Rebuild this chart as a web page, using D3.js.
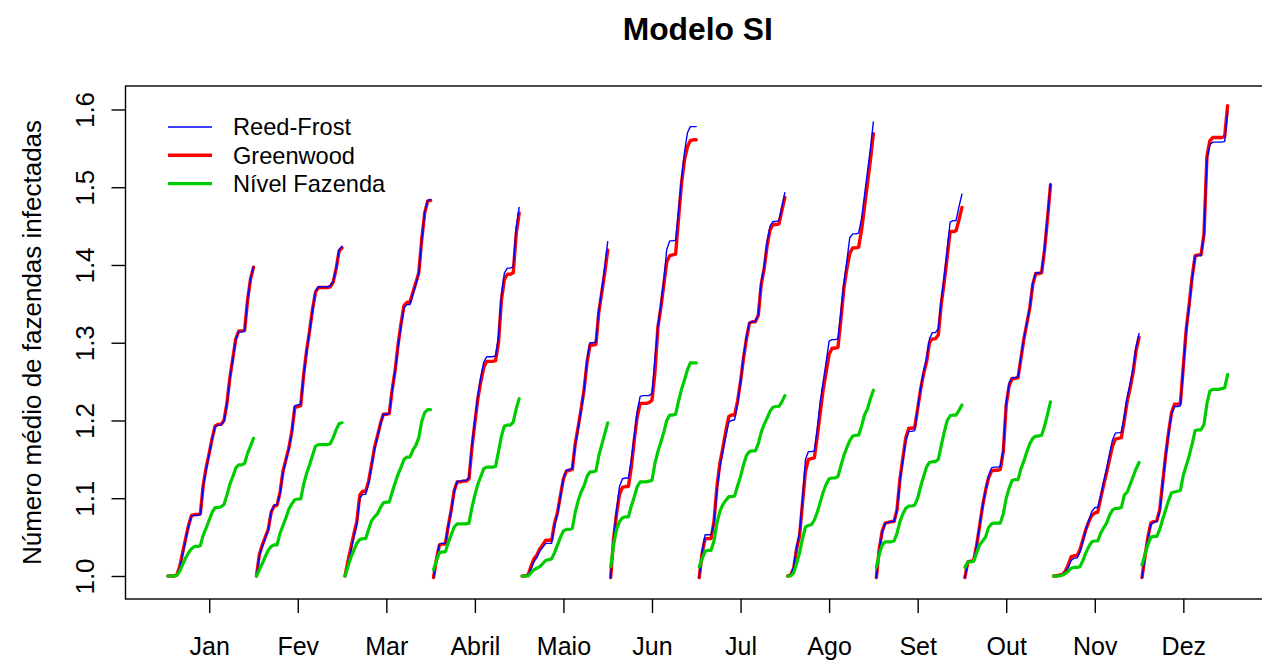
<!DOCTYPE html>
<html>
<head>
<meta charset="utf-8">
<script src="https://cdn.jsdelivr.net/npm/d3@7"></script>
<style>
  body { margin: 0; background: #ffffff; }
  text { font-family: "Liberation Sans", Arial, Helvetica, sans-serif; fill: #000; }
</style>
</head>
<body>
<svg id="chart" width="1262" height="662"></svg>
<script>
// Months shown on the x axis; each month holds 30 daily values.
const months = ["Jan", "Fev", "Mar", "Abril", "Maio", "Jun", "Jul", "Ago", "Set", "Out", "Nov", "Dez"];
const daysPerMonth = 30;
const yTickValues = [1.0, 1.1, 1.2, 1.3, 1.4, 1.5, 1.6];
const seriesNames = ["Reed-Frost", "Greenwood", "Nível Fazenda"];

// Mean number of infected farms per day, Reed-Frost model
const reedFrost = [
  [1.000,1.000,1.000,1.001,1.010,1.028,1.046,1.064,1.077,1.078,1.078,1.079,1.116,1.138,1.157,1.176,1.192,1.194,1.194,1.199,1.221,1.254,1.279,1.304,1.314,1.314,1.315,1.356,1.383,1.398],
  [1.000,1.026,1.038,1.049,1.059,1.083,1.091,1.092,1.106,1.133,1.149,1.164,1.185,1.219,1.220,1.221,1.258,1.289,1.314,1.342,1.366,1.372,1.372,1.372,1.372,1.373,1.379,1.396,1.420,1.424],
  [1.000,1.015,1.032,1.050,1.066,1.100,1.105,1.105,1.119,1.141,1.163,1.179,1.195,1.208,1.208,1.209,1.239,1.264,1.296,1.322,1.345,1.349,1.349,1.362,1.375,1.390,1.432,1.467,1.483,1.484],
  [0.998,1.022,1.041,1.042,1.042,1.064,1.084,1.108,1.122,1.122,1.123,1.123,1.126,1.168,1.201,1.232,1.256,1.275,1.282,1.282,1.282,1.283,1.308,1.362,1.390,1.396,1.396,1.398,1.448,1.474],
  [1.000,1.000,1.001,1.009,1.018,1.024,1.032,1.037,1.042,1.042,1.042,1.065,1.080,1.103,1.126,1.136,1.137,1.138,1.168,1.190,1.213,1.240,1.278,1.300,1.300,1.301,1.342,1.368,1.398,1.430],
  [0.998,1.050,1.085,1.115,1.125,1.126,1.126,1.150,1.180,1.212,1.231,1.232,1.232,1.232,1.235,1.280,1.320,1.350,1.380,1.420,1.431,1.431,1.432,1.470,1.510,1.545,1.570,1.578,1.578,1.578],
  [0.998,1.032,1.053,1.053,1.053,1.068,1.110,1.140,1.160,1.180,1.198,1.200,1.201,1.222,1.250,1.282,1.308,1.326,1.327,1.327,1.336,1.378,1.398,1.430,1.450,1.456,1.456,1.457,1.475,1.493],
  [1.000,1.001,1.012,1.038,1.056,1.100,1.150,1.160,1.160,1.161,1.190,1.225,1.250,1.275,1.302,1.304,1.304,1.305,1.340,1.376,1.405,1.435,1.440,1.440,1.441,1.460,1.490,1.520,1.550,1.584],
  [0.998,1.033,1.056,1.068,1.069,1.070,1.070,1.085,1.122,1.149,1.174,1.186,1.186,1.187,1.215,1.242,1.263,1.280,1.305,1.313,1.313,1.318,1.355,1.385,1.420,1.455,1.457,1.457,1.475,1.491],
  [0.998,1.018,1.019,1.020,1.040,1.065,1.090,1.110,1.128,1.139,1.140,1.140,1.141,1.162,1.222,1.248,1.255,1.255,1.256,1.282,1.306,1.326,1.346,1.377,1.390,1.390,1.391,1.422,1.462,1.505],
  [1.000,1.000,1.001,1.002,1.005,1.011,1.020,1.023,1.023,1.031,1.045,1.060,1.072,1.083,1.088,1.088,1.103,1.121,1.138,1.157,1.175,1.184,1.184,1.185,1.205,1.230,1.248,1.268,1.295,1.312],
  [0.998,1.024,1.049,1.066,1.069,1.070,1.083,1.118,1.153,1.183,1.208,1.218,1.218,1.219,1.268,1.316,1.348,1.383,1.411,1.412,1.412,1.438,1.535,1.555,1.558,1.558,1.558,1.558,1.559,1.597]
];

// Mean number of infected farms per day, Greenwood model
const greenwood = [
  [1.000,1.000,1.000,1.001,1.012,1.030,1.048,1.065,1.078,1.079,1.079,1.080,1.118,1.140,1.158,1.177,1.193,1.195,1.195,1.200,1.222,1.255,1.280,1.305,1.315,1.315,1.316,1.355,1.382,1.397],
  [1.000,1.028,1.040,1.050,1.060,1.082,1.090,1.091,1.108,1.135,1.150,1.165,1.186,1.217,1.218,1.219,1.259,1.290,1.315,1.343,1.365,1.371,1.371,1.371,1.371,1.372,1.378,1.395,1.418,1.422],
  [1.000,1.019,1.036,1.054,1.070,1.104,1.109,1.109,1.122,1.143,1.165,1.180,1.196,1.208,1.208,1.209,1.240,1.265,1.298,1.325,1.348,1.352,1.352,1.365,1.377,1.390,1.433,1.467,1.482,1.483],
  [0.998,1.022,1.040,1.041,1.041,1.065,1.085,1.110,1.121,1.121,1.122,1.122,1.125,1.165,1.197,1.228,1.250,1.268,1.276,1.276,1.276,1.277,1.300,1.355,1.382,1.388,1.388,1.390,1.440,1.467],
  [1.000,1.000,1.001,1.012,1.022,1.027,1.035,1.040,1.046,1.046,1.046,1.068,1.082,1.104,1.125,1.135,1.136,1.137,1.170,1.192,1.215,1.240,1.275,1.297,1.297,1.298,1.340,1.365,1.390,1.419],
  [0.998,1.048,1.080,1.105,1.114,1.115,1.115,1.140,1.175,1.205,1.222,1.222,1.222,1.223,1.226,1.262,1.320,1.345,1.375,1.404,1.412,1.413,1.414,1.460,1.505,1.535,1.552,1.560,1.561,1.561],
  [0.998,1.030,1.048,1.048,1.048,1.070,1.115,1.145,1.165,1.186,1.205,1.207,1.207,1.225,1.250,1.280,1.305,1.325,1.327,1.327,1.335,1.375,1.395,1.425,1.445,1.452,1.452,1.453,1.470,1.487],
  [1.000,1.001,1.010,1.035,1.052,1.094,1.135,1.150,1.151,1.152,1.180,1.210,1.240,1.262,1.285,1.293,1.293,1.294,1.330,1.370,1.395,1.415,1.422,1.422,1.423,1.445,1.475,1.505,1.535,1.569],
  [0.998,1.035,1.058,1.068,1.069,1.070,1.070,1.085,1.125,1.152,1.178,1.190,1.190,1.191,1.215,1.240,1.260,1.275,1.300,1.305,1.305,1.310,1.350,1.378,1.410,1.443,1.443,1.444,1.458,1.474],
  [0.998,1.018,1.019,1.020,1.040,1.065,1.090,1.110,1.126,1.135,1.136,1.136,1.137,1.160,1.220,1.245,1.254,1.254,1.255,1.280,1.305,1.325,1.345,1.375,1.389,1.389,1.390,1.420,1.460,1.503],
  [1.000,1.000,1.001,1.002,1.006,1.014,1.025,1.026,1.026,1.034,1.047,1.060,1.070,1.078,1.081,1.082,1.100,1.117,1.133,1.150,1.167,1.176,1.177,1.178,1.200,1.225,1.242,1.262,1.290,1.307],
  [0.998,1.025,1.050,1.068,1.070,1.071,1.085,1.120,1.155,1.185,1.210,1.221,1.221,1.222,1.270,1.318,1.350,1.385,1.412,1.413,1.413,1.440,1.540,1.560,1.564,1.564,1.564,1.564,1.565,1.605]
];

// Mean number of infected farms per day, farm-level model
const nivelFazenda = [
  [1.000,1.000,1.000,1.001,1.006,1.015,1.023,1.030,1.035,1.038,1.038,1.039,1.053,1.062,1.072,1.082,1.088,1.088,1.089,1.092,1.104,1.118,1.128,1.139,1.143,1.143,1.145,1.158,1.167,1.177],
  [1.000,1.008,1.016,1.025,1.033,1.038,1.040,1.040,1.055,1.065,1.075,1.086,1.093,1.098,1.099,1.099,1.118,1.132,1.143,1.155,1.167,1.169,1.169,1.169,1.169,1.170,1.178,1.188,1.196,1.197],
  [1.000,1.012,1.024,1.033,1.042,1.047,1.048,1.048,1.060,1.071,1.076,1.080,1.088,1.094,1.095,1.095,1.108,1.120,1.131,1.140,1.150,1.153,1.153,1.162,1.168,1.178,1.199,1.210,1.214,1.214],
  [1.008,1.020,1.030,1.031,1.031,1.043,1.053,1.063,1.067,1.067,1.067,1.067,1.068,1.088,1.104,1.118,1.128,1.138,1.140,1.140,1.140,1.141,1.160,1.180,1.193,1.194,1.194,1.198,1.215,1.228],
  [1.000,1.000,1.000,1.004,1.008,1.010,1.012,1.016,1.020,1.021,1.022,1.030,1.040,1.050,1.058,1.060,1.060,1.061,1.082,1.097,1.108,1.116,1.128,1.134,1.134,1.135,1.155,1.169,1.183,1.197],
  [1.012,1.040,1.060,1.070,1.075,1.076,1.076,1.090,1.102,1.115,1.121,1.121,1.121,1.122,1.123,1.145,1.160,1.172,1.185,1.200,1.207,1.207,1.208,1.225,1.240,1.252,1.265,1.274,1.274,1.274],
  [1.012,1.022,1.032,1.033,1.033,1.045,1.068,1.083,1.092,1.097,1.102,1.102,1.103,1.116,1.128,1.143,1.155,1.160,1.161,1.161,1.170,1.185,1.195,1.203,1.212,1.217,1.218,1.218,1.224,1.232],
  [1.000,1.000,1.004,1.016,1.030,1.048,1.063,1.065,1.066,1.072,1.082,1.095,1.108,1.118,1.125,1.126,1.126,1.128,1.142,1.155,1.165,1.174,1.180,1.181,1.181,1.193,1.207,1.215,1.228,1.239],
  [1.011,1.028,1.040,1.044,1.044,1.044,1.045,1.055,1.070,1.080,1.087,1.090,1.090,1.091,1.100,1.115,1.128,1.140,1.146,1.147,1.147,1.150,1.168,1.185,1.200,1.206,1.207,1.207,1.213,1.220],
  [1.011,1.018,1.018,1.019,1.030,1.040,1.045,1.050,1.062,1.067,1.068,1.068,1.068,1.080,1.100,1.113,1.123,1.124,1.124,1.138,1.148,1.160,1.170,1.177,1.180,1.180,1.181,1.193,1.208,1.224],
  [1.000,1.000,1.000,1.001,1.003,1.006,1.010,1.011,1.011,1.012,1.020,1.030,1.038,1.044,1.045,1.045,1.055,1.062,1.068,1.078,1.085,1.087,1.087,1.088,1.104,1.108,1.118,1.128,1.138,1.146],
  [1.014,1.028,1.040,1.050,1.051,1.051,1.060,1.073,1.085,1.097,1.107,1.108,1.109,1.110,1.130,1.142,1.155,1.170,1.187,1.188,1.188,1.195,1.222,1.238,1.240,1.240,1.240,1.241,1.242,1.259]
];

const svg = d3.select("#chart");
const width = 1262, height = 662;

// Plot region (the right edge of the frame falls just outside the page)
const plot = { left: 125.5, right: 1270, top: 86, bottom: 599 };

// Day index runs 1..360; the axis keeps a 4% margin on both sides
const nDays = months.length * daysPerMonth;
const xPad = (nDays - 1) * 0.04;
const x = d3.scaleLinear().domain([1 - xPad, nDays + xPad]).range([plot.left, plot.right]);
const y = d3.scaleLinear().domain([0.9704, 1.6302]).range([plot.bottom, plot.top]);

svg.append("rect").attr("width", width).attr("height", height).attr("fill", "#fff");

const styles = [
  { name: seriesNames[1], data: greenwood, color: "#ff0000", width: 3.4 },
  { name: seriesNames[0], data: reedFrost, color: "#0000ff", width: 1.4 },
  { name: seriesNames[2], data: nivelFazenda, color: "#00cd00", width: 3.2 }
];

svg.append("defs").append("clipPath").attr("id", "plotClip")
  .append("rect").attr("x", plot.left).attr("y", plot.top)
  .attr("width", plot.right - plot.left).attr("height", plot.bottom - plot.top);

const lines = svg.append("g").attr("clip-path", "url(#plotClip)");
styles.forEach(s => {
  s.data.forEach((monthVals, m) => {
    const line = d3.line()
      .x((v, i) => x(m * daysPerMonth + i + 1))
      .y(v => y(v));
    lines.append("path")
      .attr("d", line(monthVals))
      .attr("fill", "none")
      .attr("stroke", s.color)
      .attr("stroke-width", s.width)
      .attr("stroke-linejoin", "round")
      .attr("stroke-linecap", "round");
  });
});

// Frame
svg.append("rect")
  .attr("x", plot.left).attr("y", plot.top)
  .attr("width", plot.right - plot.left).attr("height", plot.bottom - plot.top)
  .attr("fill", "none").attr("stroke", "#000").attr("stroke-width", 1.4);

// X axis: one tick at the middle of each month, labels set further down
const monthTicks = months.map((mName, i) => i * daysPerMonth + 15);
const xAxis = d3.axisBottom(x).tickValues(monthTicks).tickSize(14).tickFormat((d, i) => months[i]);
const gx = svg.append("g").attr("transform", `translate(0,${plot.bottom})`).call(xAxis);
gx.select(".domain").remove();
gx.selectAll(".tick line").attr("stroke", "#000").attr("stroke-width", 1.4);
gx.selectAll(".tick text")
  .attr("y", 56).attr("dy", null)
  .style("font-size", "25px").style("font-family", "Liberation Sans, Arial, sans-serif");

// Y axis with labels written along the axis
const yAxis = d3.axisLeft(y).tickValues(yTickValues).tickSize(14).tickFormat(d3.format(".1f"));
const gy = svg.append("g").attr("transform", `translate(${plot.left},0)`).call(yAxis);
gy.select(".domain").remove();
gy.selectAll(".tick line").attr("stroke", "#000").attr("stroke-width", 1.4);
gy.selectAll(".tick text")
  .attr("x", null).attr("dy", null)
  .attr("text-anchor", "middle")
  .attr("transform", "translate(-31.5,0) rotate(-90)")
  .style("font-size", "26px").style("font-family", "Liberation Sans, Arial, sans-serif");

// Axis title
svg.append("text")
  .attr("transform", `translate(41,${(plot.top + plot.bottom) / 2}) rotate(-90)`)
  .attr("text-anchor", "middle")
  .style("font-size", "26px")
  .text("Número médio de fazendas infectadas");

// Title
svg.append("text")
  .attr("x", (plot.left + plot.right) / 2).attr("y", 40)
  .attr("text-anchor", "middle")
  .style("font-size", "31.8px").style("font-weight", "bold")
  .text("Modelo SI");

// Legend
const legendRows = [
  { name: seriesNames[0], color: "#0000ff", width: 1.4 },
  { name: seriesNames[1], color: "#ff0000", width: 3.4 },
  { name: seriesNames[2], color: "#00cd00", width: 3.2 }
];
const legend = svg.append("g").attr("transform", "translate(168,127)");
legendRows.forEach((r, i) => {
  const row = legend.append("g").attr("transform", `translate(0,${i * 28.3})`);
  row.append("line").attr("x1", 0).attr("x2", 44).attr("y1", 0).attr("y2", 0)
    .attr("stroke", r.color).attr("stroke-width", r.width);
  row.append("text").attr("x", 65).attr("dy", "0.35em")
    .style("font-size", "23.6px").text(r.name);
});
</script>
</body>
</html>
